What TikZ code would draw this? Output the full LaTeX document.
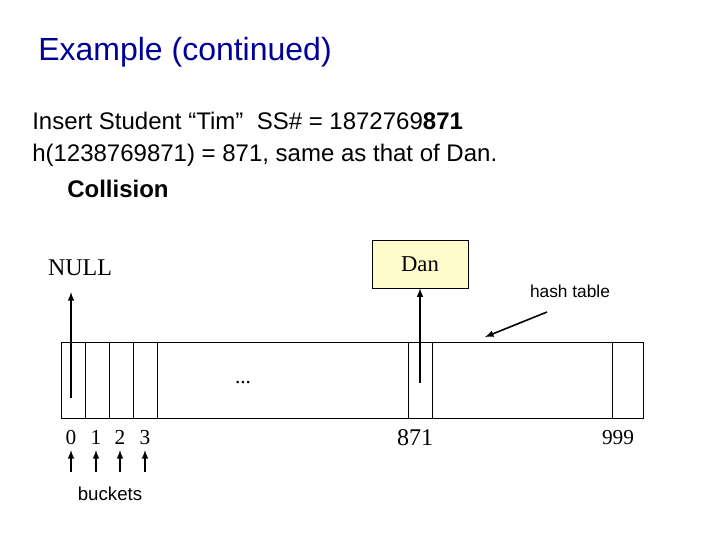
\documentclass[tikz,border=0pt]{standalone}
\usepackage{fontspec}
\setmainfont{Liberation Sans}
\newfontfamily\serif{Liberation Serif}
\begin{document}
\begin{tikzpicture}[x=0.75pt,y=-0.75pt,
  cell/.style={draw,line width=0.5pt},
  arr/.style={-latex,line width=1.2pt},
  lab/.style={font=\serif\fontsize{16}{16}\selectfont,text height=11pt,text depth=0pt},
  txt/.style={anchor=west,font=\fontsize{18}{20}\selectfont,inner sep=0}]
\useasboundingbox (0,0) rectangle (720,540);
\node[txt,text=blue!60!black,font=\fontsize{24}{26}\selectfont] (title) at (38,52) {Example (continued)};
\node[txt] (l1) at (32,121) {Insert Student “Tim”\ \ SS\# = 1872769\textbf{871}};
\node[txt] (l2) at (32,155) {h(1238769871) = 871, same as that of Dan.};
\node[txt,font=\bfseries\fontsize{18}{20}\selectfont] (l3) at (67,189) {Collision};
\draw[cell] (61,342) rectangle (643,418);
\foreach \x in {85,109,133,157,408,432,612} \draw[cell] (\x,342) -- (\x,418);
\node[font=\serif\fontsize{18}{18}\selectfont] (null) at (80,268) {NULL};
\node[draw,fill=yellow!20,minimum width=72pt,minimum height=36pt,font=\serif\fontsize{17}{17}\selectfont] (dan) at (420,264) {Dan};
\coordinate (c0) at (71,398);
\coordinate (c871) at (420,383);
\draw[arr] (c0) -- (71,292);
\draw[arr] (c871) -- (dan.south);
\node[font=\fontsize{13}{13}\selectfont] (ht) at (570,291) {hash table};
\coordinate (hs) at (547,312);
\coordinate (he) at (485,337);
\draw[arr] (hs) -- (he);
\node[lab] (dots) at (243,376) {...};
\node[lab] (n0) at (71,437) {0};
\node[lab] (n1) at (96,437) {1};
\node[lab] (n2) at (120,437) {2};
\node[lab] (n3) at (145,437) {3};
\foreach \x in {71,96,120,145}{
  \coordinate (b\x) at (\x,472);
  \draw[arr] (b\x) -- (\x,450);
}
\node[lab,font=\serif\fontsize{18}{18}\selectfont] (n871) at (415,438) {871};
\node[lab] (n999) at (618,437) {999};
\node[font=\fontsize{14}{14}\selectfont] (bk) at (110,494) {buckets};
\end{tikzpicture}
\end{document}
